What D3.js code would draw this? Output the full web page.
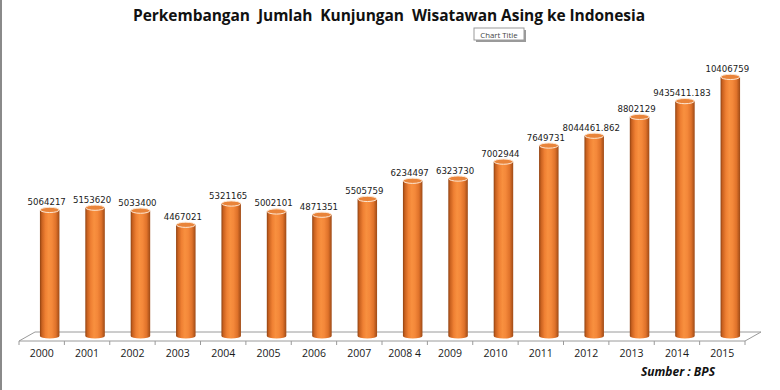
<!DOCTYPE html>
<html>
<head>
<meta charset="utf-8">
<script src="https://cdn.jsdelivr.net/npm/d3@7"></script>
<style>
  html, body { margin: 0; padding: 0; background: #fff; }
  svg { display: block; }
</style>
</head>
<body>
<svg id="chart" width="780" height="390"></svg>
<script>
const categories = ["2000","2001","2002","2003","2004","2005","2006","2007","2008 4","2009","2010","2011","2012","2013","2014","2015"];
const values = [5064217,5153620,5033400,4467021,5321165,5002101,4871351,5505759,6234497,6323730,7002944,7649731,8044461.862,8802129,9435411.183,10406759];
const valueLabels = ["5064217","5153620","5033400","4467021","5321165","5002101","4871351","5505759","6234497","6323730","7002944","7649731","8044461.862","8802129","9435411.183","10406759"];
const titleText = "Perkembangan  Jumlah  Kunjungan  Wisatawan Asing ke Indonesia";
const sourceText = "Sumber : BPS";

const svg = d3.select("#chart");
const W = 780, H = 390;

// frame left border
svg.append("line").attr("x1",1).attr("x2",1).attr("y1",0).attr("y2",H)
  .attr("stroke","#8a8a8a").attr("stroke-width",2);

const x = d3.scaleBand().domain(categories).range([19, 745]).padding(0);
const y = d3.scaleLinear().domain([0, 12000000]).range([336, 37.26]);
const depthX = 16, depthY = 9;
const floorY = 341;

const defs = svg.append("defs");
const grad = defs.append("linearGradient").attr("id","cyl").attr("x1","0%").attr("x2","100%");
[["0%","#8f4212"],["10%","#c9611f"],["28%","#ef8033"],["45%","#f8903f"],["62%","#f4883a"],["82%","#df722a"],["100%","#9e4a16"]]
  .forEach(([o,c]) => grad.append("stop").attr("offset",o).attr("stop-color",c));

// floor
const fl = x.range()[0], fr = x.range()[1];
svg.append("path")
  .attr("d", `M${fl},${floorY} L${fr},${floorY} L${fr+depthX},${floorY-depthY} L${fl+depthX},${floorY-depthY} Z`)
  .attr("fill","none").attr("stroke","#9a9a9a").attr("stroke-width",1);
// ticks
const boundaries = categories.map(c => x(c)).concat([fr]);
svg.selectAll(".tick").data(boundaries).enter().append("line")
  .attr("x1", d => d).attr("x2", d => d)
  .attr("y1", floorY).attr("y2", floorY + 4)
  .attr("stroke","#9a9a9a").attr("stroke-width",1);

// bars (cylinders)
const bw = 19.5, rx = bw/2, ry = 2.6;
const cx = c => x(c) + x.bandwidth()/2 + depthX/2;
const baseY = y(0);
const g = svg.append("g");
categories.forEach((c, i) => {
  const top = y(values[i]);
  const bx = cx(c);
  g.append("path")
    .attr("d", `M${bx-rx},${top} L${bx-rx},${baseY} A${rx},${ry} 0 0 0 ${bx+rx},${baseY} L${bx+rx},${top} Z`)
    .attr("fill","url(#cyl)");
  g.append("ellipse").attr("cx",bx).attr("cy",top).attr("rx",rx-0.3).attr("ry",ry)
    .attr("fill","#e9843a").attr("stroke","#fde6d2").attr("stroke-width",1);
});

// value labels
svg.selectAll(".vl").data(categories).enter().append("text")
  .attr("x", c => cx(c) - 3)
  .attr("y", (c,i) => y(values[i]) - 5)
  .attr("text-anchor","middle")
  .attr("font-family","DejaVu Sans, Verdana, sans-serif")
  .attr("font-size", 8.6)
  .attr("fill","#1a1a1a")
  .text((c,i) => valueLabels[i]);

// category labels
svg.selectAll(".cl").data(categories).enter().append("text")
  .attr("x", c => x(c) + x.bandwidth()/2)
  .attr("y", 357)
  .attr("text-anchor","middle")
  .attr("font-family","Open Sans, sans-serif")
  .attr("font-size", 10.5)
  .attr("fill","#1a1a1a")
  .text(c => c);

// title
svg.append("text").attr("x", 389).attr("y", 21).attr("text-anchor","middle")
  .attr("font-family","Open Sans, sans-serif").attr("font-weight","bold")
  .attr("font-size", 15.5).attr("fill","#111")
  .attr("textLength", 512).attr("lengthAdjust","spacing")
  .style("white-space","pre")
  .text(titleText);

// "Chart Title" box
const bxg = svg.append("g");
bxg.append("rect").attr("x",476).attr("y",30).attr("width",50).attr("height",12).attr("fill","#9a9a9a");
bxg.append("rect").attr("x",474).attr("y",28).attr("width",50).attr("height",12)
  .attr("fill","#fff").attr("stroke","#9a9a9a").attr("stroke-width",1);
bxg.append("text").attr("x",499).attr("y",37.5).attr("text-anchor","middle")
  .attr("font-family","Open Sans, sans-serif").attr("font-size",7.8).attr("fill","#444")
  .text("Chart Title");

// source
svg.append("text").attr("x", 715).attr("y", 376).attr("text-anchor","end")
  .attr("font-family","Open Sans, sans-serif").attr("font-weight","bold").attr("font-style","italic")
  .attr("font-size", 12).attr("fill","#111")
  .text(sourceText);
</script>
</body>
</html>
